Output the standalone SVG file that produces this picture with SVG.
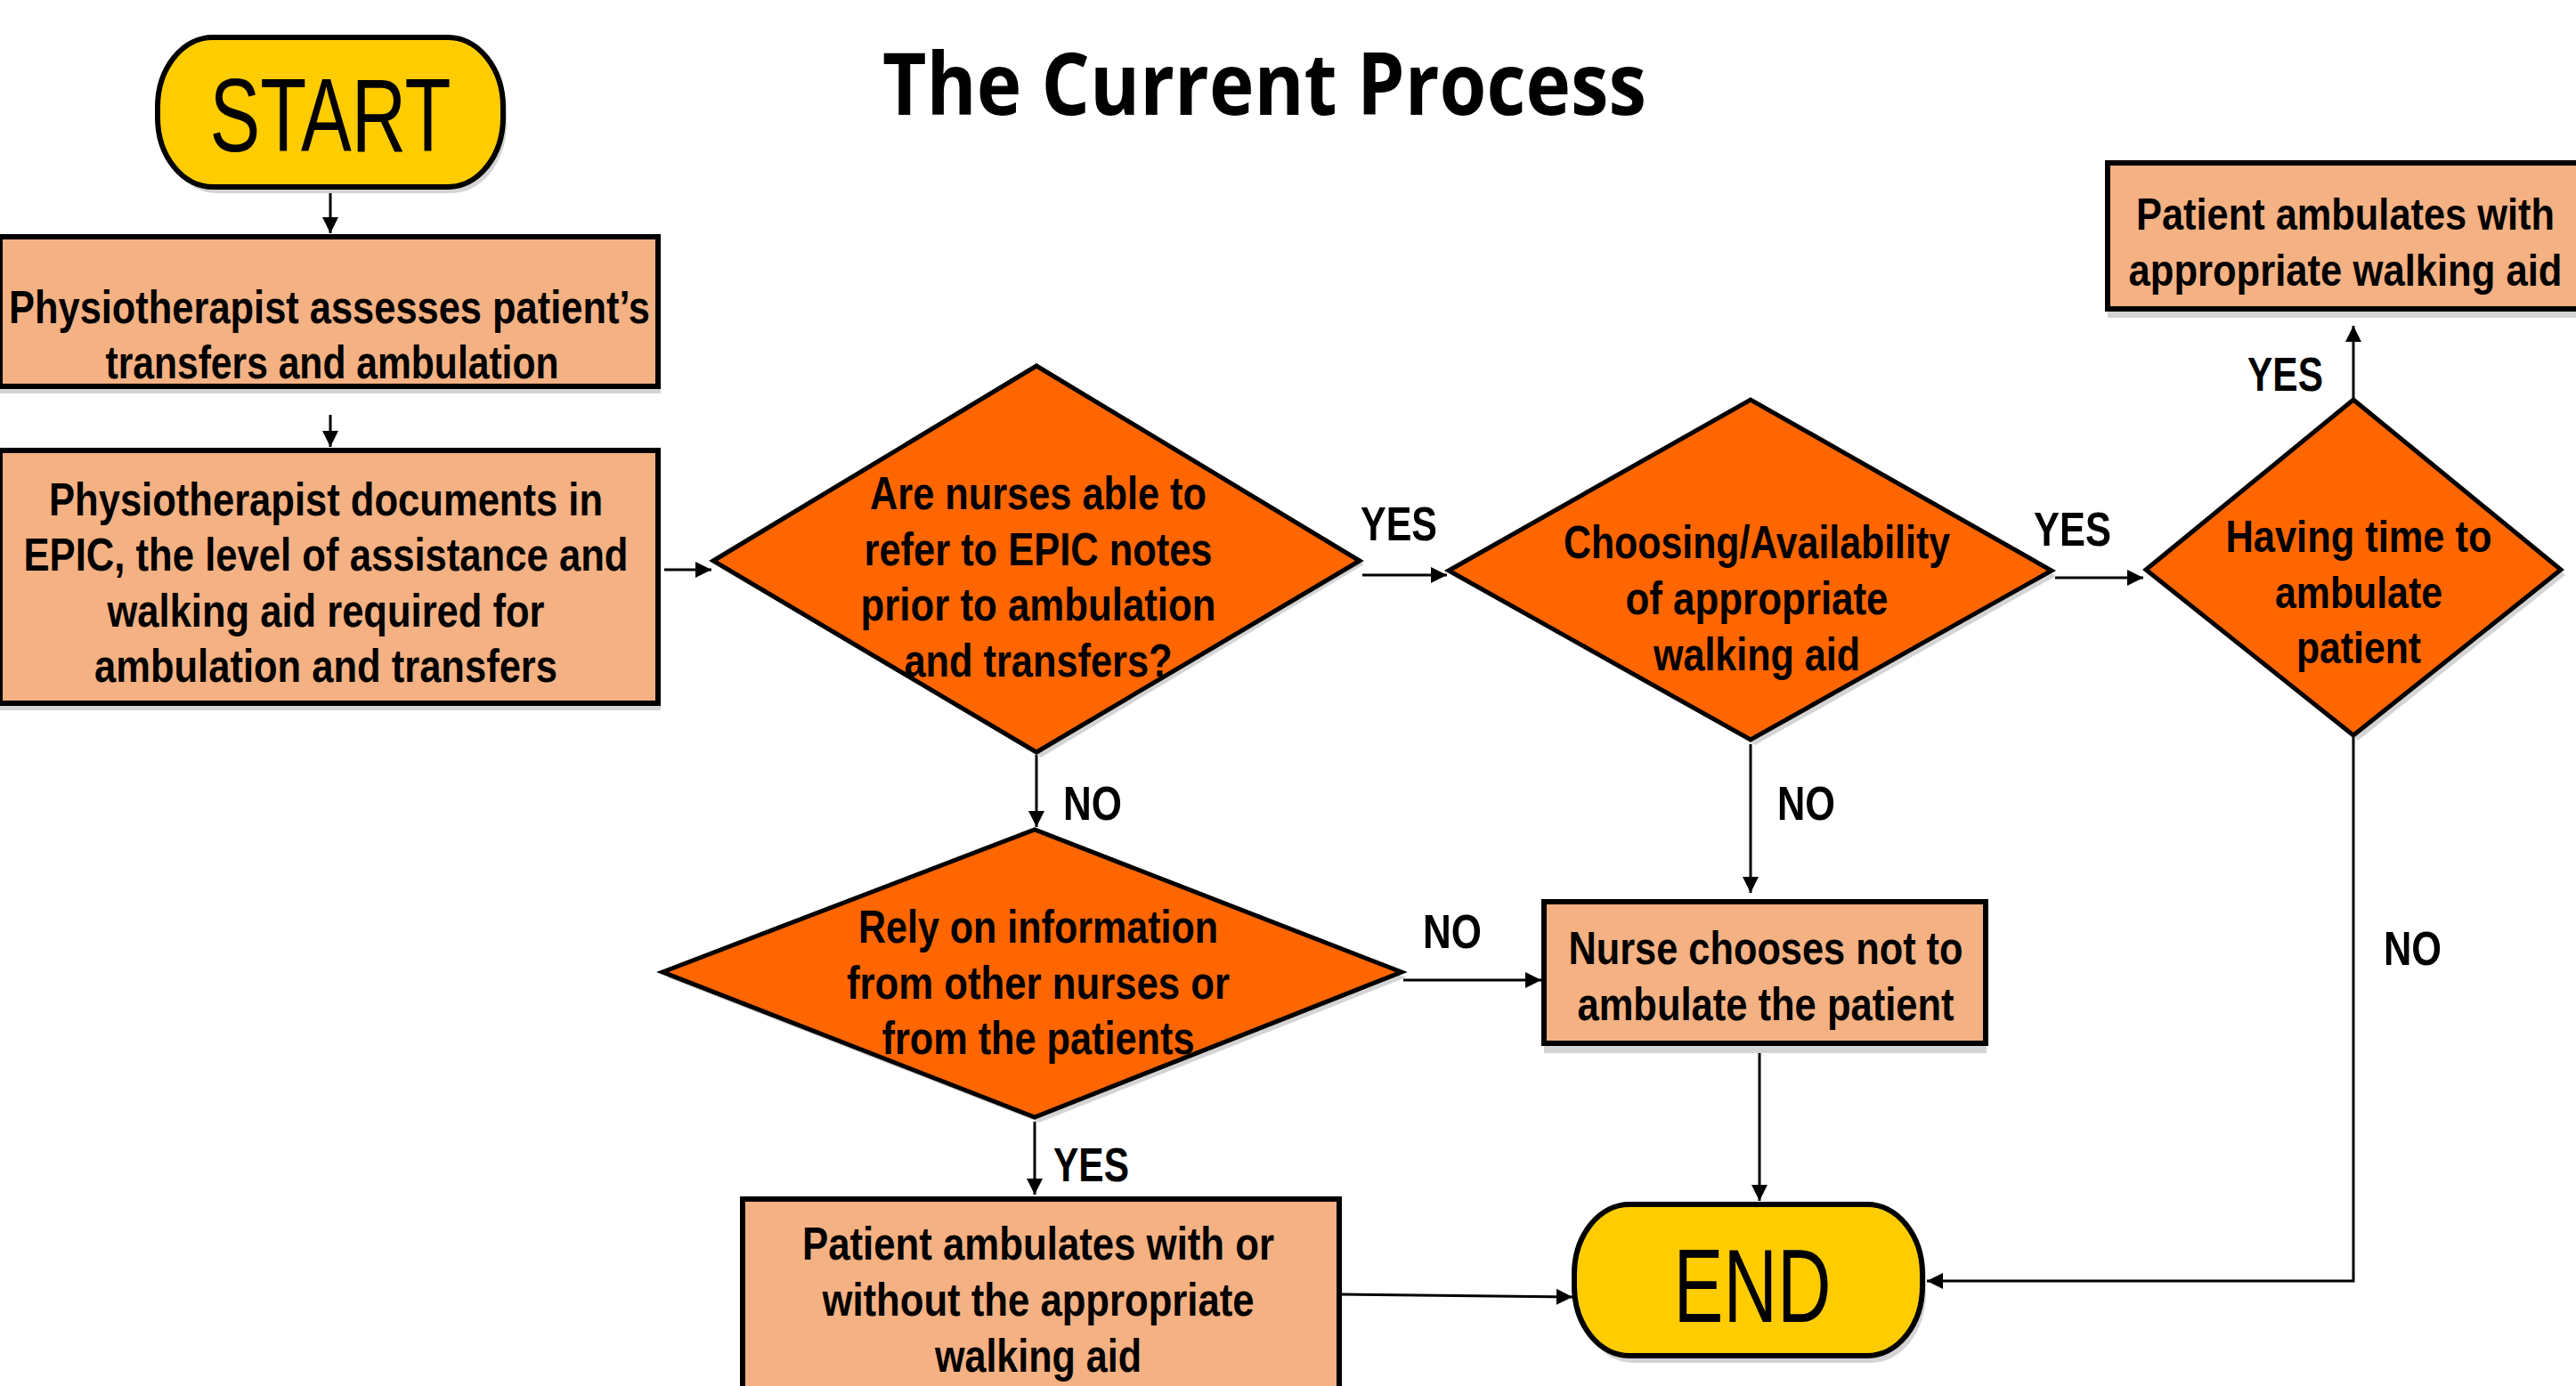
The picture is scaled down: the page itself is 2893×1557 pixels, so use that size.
<svg xmlns="http://www.w3.org/2000/svg" width="2893" height="1557" viewBox="0 0 2893 1557">
<defs>
<marker id="arr" viewBox="0 0 10 10" refX="10" refY="5" markerWidth="20" markerHeight="18" markerUnits="userSpaceOnUse" orient="auto">
<path d="M0,0 L10,5 L0,10 z" fill="#000"/>
</marker>
</defs>
<style>
.box{fill:#F4B183;stroke:#000;stroke-width:6}
.dia{fill:#FF6600;stroke:#000;stroke-width:5;stroke-linejoin:miter}
.term{fill:#FFCC00;stroke:#000;stroke-width:6}
.sh{fill:#d4d4d4;stroke:none}
.t{font-family:"Liberation Sans Narrow","Liberation Sans",Arial,sans-serif;font-size:52px;font-weight:bold;fill:#000;text-anchor:middle}
.tb{font-family:"Liberation Sans",Arial,sans-serif;font-size:50px;font-weight:bold;fill:#000;text-anchor:middle}
.lbl{font-family:"Liberation Sans Narrow","Liberation Sans",Arial,sans-serif;font-size:54px;font-weight:bold;fill:#000}
.big{font-family:"Liberation Sans Narrow","Liberation Sans",Arial,sans-serif;font-size:116px;fill:#000;text-anchor:middle}
.c{fill:none;stroke:#000;stroke-width:3;marker-end:url(#arr)}
</style>
<rect width="2893" height="1557" fill="#fff"/>
<text x="1420" y="129" font-family="'Open Sans','Liberation Sans',sans-serif" font-weight="bold" font-size="96" text-anchor="middle" textLength="858" lengthAdjust="spacingAndGlyphs">The Current Process</text>

<g id="connectors">
<path class="c" d="M371 214 V262"/>
<path class="c" d="M371 466 V502"/>
<path class="c" d="M746 640 H799"/>
<path class="c" d="M1530 646 H1625"/>
<path class="c" d="M2308 649 H2407"/>
<path class="c" d="M2643 448 V366"/>
<path class="c" d="M2643 825 V1439 H2164"/>
<path class="c" d="M1164 848 V929"/>
<path class="c" d="M1966 836 V1003"/>
<path class="c" d="M1576 1101 H1731"/>
<path class="c" d="M1976 1172 V1349"/>
<path class="c" d="M1162 1260 V1342"/>
<path class="c" d="M1506 1454 L1766 1457"/>
<text class="lbl" x="1528" y="607" textLength="86" lengthAdjust="spacingAndGlyphs">YES</text>
<text class="lbl" x="2284" y="613" textLength="87" lengthAdjust="spacingAndGlyphs">YES</text>
<text class="lbl" x="2524" y="439" textLength="85" lengthAdjust="spacingAndGlyphs">YES</text>
<text class="lbl" x="1183" y="1327" textLength="85" lengthAdjust="spacingAndGlyphs">YES</text>
<text class="lbl" x="1194" y="921" textLength="66" lengthAdjust="spacingAndGlyphs">NO</text>
<text class="lbl" x="1996" y="921" textLength="65" lengthAdjust="spacingAndGlyphs">NO</text>
<text class="lbl" x="1598" y="1065" textLength="66" lengthAdjust="spacingAndGlyphs">NO</text>
<text class="lbl" x="2677" y="1084" textLength="65" lengthAdjust="spacingAndGlyphs">NO</text>
</g>

<g id="start">
<rect class="sh" x="181" y="48" width="388" height="169" rx="62" ry="78"/>
<rect class="term" x="177" y="42" width="388" height="168" rx="62" ry="78"/>
<text class="big" x="371" y="170" textLength="271" lengthAdjust="spacingAndGlyphs">START</text>
</g>

<g id="assess">
<rect class="sh" x="0" y="270" width="742" height="172"/>
<rect class="box" x="0" y="266" width="739" height="168"/>
<text class="t" x="370" y="363" textLength="720" lengthAdjust="spacingAndGlyphs">Physiotherapist assesses patient’s</text>
<text class="t" x="373" y="425" textLength="509" lengthAdjust="spacingAndGlyphs">transfers and ambulation</text>
</g>

<g id="document">
<rect class="sh" x="0" y="510" width="742" height="288"/>
<rect class="box" x="0" y="506" width="739" height="284"/>
<text class="t" x="366" y="579" textLength="622" lengthAdjust="spacingAndGlyphs">Physiotherapist documents in</text>
<text class="t" x="366" y="641" textLength="679" lengthAdjust="spacingAndGlyphs">EPIC, the level of assistance and</text>
<text class="t" x="366" y="704" textLength="491" lengthAdjust="spacingAndGlyphs">walking aid required for</text>
<text class="t" x="366" y="766" textLength="520" lengthAdjust="spacingAndGlyphs">ambulation and transfers</text>
</g>

<g id="d-epic">
<polygon class="sh" points="806,634 1169,417 1532,634 1169,851"/>
<polygon class="dia" points="801,630 1164,411 1527,630 1164,845"/>
<text class="t" x="1166" y="572" textLength="378" lengthAdjust="spacingAndGlyphs">Are nurses able to</text>
<text class="t" x="1166" y="635" textLength="391" lengthAdjust="spacingAndGlyphs">refer to EPIC notes</text>
<text class="t" x="1166" y="697" textLength="399" lengthAdjust="spacingAndGlyphs">prior to ambulation</text>
<text class="t" x="1166" y="760" textLength="301" lengthAdjust="spacingAndGlyphs">and transfers?</text>
</g>

<g id="d-aid">
<polygon class="sh" points="1632,647 1971,455 2309,647 1971,837"/>
<polygon class="dia" points="1627,641 1966,449 2304,641 1966,831"/>
<text class="t" x="1973" y="627" textLength="434" lengthAdjust="spacingAndGlyphs">Choosing/Availability</text>
<text class="t" x="1973" y="690" textLength="295" lengthAdjust="spacingAndGlyphs">of appropriate</text>
<text class="t" x="1973" y="753" textLength="232" lengthAdjust="spacingAndGlyphs">walking aid</text>
</g>

<g id="d-time">
<polygon class="sh" points="2415,646 2648,455 2881,646 2648,832"/>
<polygon class="dia" points="2410,640 2643,449 2876,640 2643,826"/>
<text class="tb" x="2649" y="620" textLength="299" lengthAdjust="spacingAndGlyphs">Having time to</text>
<text class="tb" x="2649" y="683" textLength="188" lengthAdjust="spacingAndGlyphs">ambulate</text>
<text class="tb" x="2649" y="745" textLength="140" lengthAdjust="spacingAndGlyphs">patient</text>
</g>

<g id="ambulate-appropriate">
<rect class="sh" x="2367" y="187" width="540" height="170"/>
<rect class="box" x="2367" y="183" width="540" height="164"/>
<text class="tb" x="2634" y="258" textLength="470" lengthAdjust="spacingAndGlyphs">Patient ambulates with</text>
<text class="tb" x="2634" y="321" textLength="487" lengthAdjust="spacingAndGlyphs">appropriate walking aid</text>
</g>

<g id="d-rely">
<polygon class="sh" points="749,1098 1167,938 1579,1098 1167,1261"/>
<polygon class="dia" points="744,1092 1162,932 1574,1092 1162,1255"/>
<text class="t" x="1166" y="1059" textLength="404" lengthAdjust="spacingAndGlyphs">Rely on information</text>
<text class="t" x="1166" y="1122" textLength="430" lengthAdjust="spacingAndGlyphs">from other nurses or</text>
<text class="t" x="1166" y="1184" textLength="351" lengthAdjust="spacingAndGlyphs">from the patients</text>
</g>

<g id="nurse">
<rect class="sh" x="1734" y="1017" width="497" height="166"/>
<rect class="box" x="1734" y="1013" width="496" height="159"/>
<text class="t" x="1983" y="1083" textLength="443" lengthAdjust="spacingAndGlyphs">Nurse chooses not to</text>
<text class="t" x="1983" y="1146" textLength="423" lengthAdjust="spacingAndGlyphs">ambulate the patient</text>
</g>

<g id="ambulate-any">
<rect class="box" x="834" y="1347" width="670" height="230"/>
<text class="t" x="1166" y="1415" textLength="530" lengthAdjust="spacingAndGlyphs">Patient ambulates with or</text>
<text class="t" x="1166" y="1478" textLength="485" lengthAdjust="spacingAndGlyphs">without the appropriate</text>
<text class="t" x="1166" y="1541" textLength="232" lengthAdjust="spacingAndGlyphs">walking aid</text>
</g>

<g id="end">
<rect class="sh" x="1772" y="1358" width="391" height="173" rx="62" ry="78"/>
<rect class="term" x="1768" y="1353" width="391" height="170" rx="62" ry="78"/>
<text class="big" x="1968" y="1485" textLength="177" lengthAdjust="spacingAndGlyphs">END</text>
</g>
</svg>
